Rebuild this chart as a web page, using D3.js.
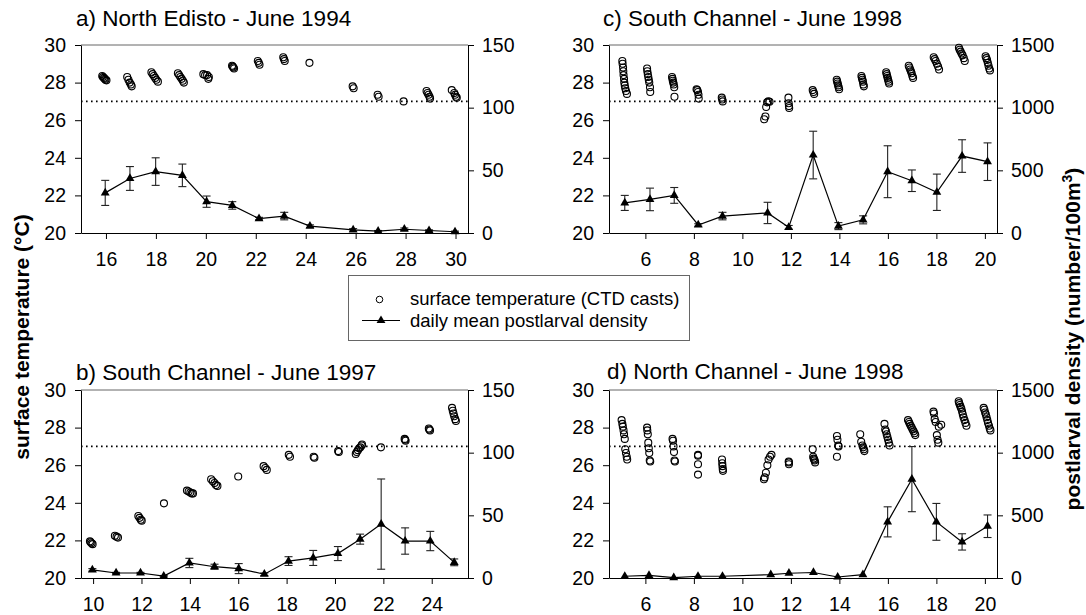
<!DOCTYPE html>
<html>
<head>
<meta charset="utf-8">
<script src="https://cdn.jsdelivr.net/npm/d3@7"></script>
<style>
  html, body { margin: 0; padding: 0; background: #fff; }
  svg { display: block; }
</style>
</head>
<body>
<svg id="chart" width="1086" height="615"></svg>
<script>
// ---- data -------------------------------------------------------------
const titles = [
  "a) North Edisto - June 1994",
  "b) South Channel - June 1997",
  "c) South Channel - June 1998",
  "d) North Channel - June 1998"
];
const tempThreshold = 27;
const tempTicks = [20, 22, 24, 26, 28, 30];
const dayTicksA = [16, 18, 20, 22, 24, 26, 28, 30];
const dayTicksB = [10, 12, 14, 16, 18, 20, 22, 24];
const dayTicksCD = [6, 8, 10, 12, 14, 16, 18, 20];
const densTicksSmall = [0, 50, 100, 150];
const densTicksLarge = [0, 500, 1000, 1500];

// a) North Edisto 1994 — daily mean postlarval density (± error)
const daysA = [15.97, 16.96, 17.99, 19.06, 20.03, 21.06, 22.13, 23.14, 24.17, 25.9, 26.9, 27.95, 28.94, 29.98];
const densA = [32, 43.5, 49, 46, 25, 22, 11.5, 13.5, 5.5, 2.5, 1.5, 3, 2, 1];
const errA  = [10, 9.5, 11, 9, 4.5, 3, 1, 3, 1, 1, 0.5, 1, 0.5, 0.5];
// surface temperature casts [day, °C]
const tempA = [
  [15.85,28.35],[15.88,28.3],[15.92,28.25],[15.95,28.2],[15.98,28.15],[16.02,28.12],
  [16.85,28.3],[16.9,28.15],[16.95,28.0],[17.0,27.9],[17.03,27.8],
  [17.82,28.55],[17.87,28.45],[17.92,28.35],[17.97,28.25],[18.02,28.15],[18.08,28.05],
  [18.88,28.5],[18.93,28.4],[18.98,28.3],[19.03,28.2],[19.08,28.1],[19.12,28.0],
  [19.9,28.45],[19.97,28.4],[20.05,28.4],[20.12,28.3],[20.1,28.2],
  [21.05,28.9],[21.08,28.85],[21.1,28.8],[21.13,28.75],
  [22.08,29.15],[22.12,29.05],[22.15,28.95],
  [23.1,29.35],[23.13,29.25],[23.16,29.15],
  [24.15,29.05],
  [25.88,27.8],[25.92,27.7],
  [26.88,27.35],[26.92,27.25],
  [27.92,27.0],
  [28.84,27.55],[28.88,27.45],[28.92,27.35],[28.96,27.25],[28.98,27.15],
  [29.85,27.6],[29.95,27.45],[29.98,27.35],[30.02,27.25],[30.05,27.2]
];

// b) South Channel 1997
const daysB = [9.97, 10.95, 11.96, 12.92, 13.98, 15.02, 16.02, 17.08, 18.08, 19.1, 20.12, 21.04, 21.91, 22.9, 23.94, 24.93];
const densB = [6.5, 4, 4, 1.5, 12, 9, 7.5, 3, 13.5, 16, 19.5, 31, 43, 29.5, 29.5, 12.5];
const errB  = [1, 0.5, 0.5, 0.5, 3.7, 2, 4, 1, 3.5, 6, 5.6, 4, 36, 10.5, 7.7, 2.7];
const tempB = [
  [9.87,21.95],[9.9,21.9],[9.94,21.85],[9.98,21.8],
  [10.9,22.25],[10.97,22.2],[11.03,22.15],
  [11.87,23.3],[11.92,23.2],[11.97,23.1],[12.01,23.05],
  [12.93,23.97],
  [13.88,24.65],[13.95,24.6],[14.02,24.55],[14.08,24.5],[14.13,24.5],
  [14.88,25.25],[14.95,25.15],[15.02,25.05],[15.08,24.95],[15.14,24.9],
  [16.0,25.4],
  [17.05,25.95],[17.12,25.85],[17.18,25.75],
  [18.09,26.55],[18.14,26.45],
  [19.12,26.45],[19.15,26.4],
  [20.13,26.75],[20.16,26.7],
  [20.86,26.6],[20.9,26.7],[20.95,26.8],[21.0,26.9],[21.05,26.95],[21.1,27.05],[21.12,27.1],
  [21.9,26.95],
  [22.88,27.4],[22.9,27.35],[22.92,27.3],
  [23.88,27.95],[23.9,27.9],[23.93,27.85],
  [24.84,29.05],[24.87,28.9],[24.9,28.75],[24.93,28.6],[24.97,28.45],[25.0,28.35]
];

// c) South Channel 1998
const daysC = [5.15, 6.19, 7.19, 8.18, 9.18, 11.04, 11.91, 12.92, 13.96, 14.98, 15.99, 16.99, 18.02, 19.06, 20.11];
const densC = [240, 268, 300, 64, 135, 160, 45, 622, 55, 105, 489, 417, 325, 614, 569];
const errC  = [60, 90, 63, 10, 30, 85, 15, 190, 28, 32, 207, 86, 145, 130, 150];
const tempC = [
  [5.05,29.15],[5.06,29.0],[5.08,28.8],[5.09,28.6],[5.1,28.4],[5.12,28.2],[5.13,28.0],[5.15,27.85],[5.17,27.7],[5.2,27.55],[5.24,27.4],
  [6.07,28.75],[6.08,28.6],[6.1,28.45],[6.12,28.3],[6.14,28.15],[6.16,28.0],[6.19,27.75],[6.2,27.5],
  [7.1,28.3],[7.12,28.2],[7.13,28.1],[7.15,28.0],[7.17,27.9],[7.19,27.75],[7.2,27.25],
  [8.11,27.65],[8.14,27.6],[8.17,27.5],[8.19,27.35],[8.2,27.15],
  [9.15,27.2],[9.17,27.1],[9.19,27.0],
  [10.9,26.05],[10.95,26.2],[10.98,26.7],[11.02,26.95],[11.07,27.0],[11.12,26.98],
  [11.9,27.2],[11.91,26.9],[11.92,26.75],[11.93,26.65],
  [12.9,27.6],[12.93,27.5],[12.96,27.4],
  [13.89,28.15],[13.91,28.05],[13.93,27.95],[13.95,27.85],[13.97,27.75],[13.99,27.65],
  [14.91,28.35],[14.93,28.25],[14.95,28.15],[14.97,28.05],[14.99,27.9],[15.01,27.8],
  [15.93,28.55],[15.95,28.45],[15.97,28.35],[15.99,28.25],[16.01,28.15],[16.03,28.05],[16.05,27.95],
  [16.86,28.9],[16.89,28.8],[16.92,28.7],[16.95,28.6],[16.98,28.5],[17.01,28.35],[17.04,28.25],
  [17.89,29.35],[17.93,29.25],[17.97,29.15],[18.02,29.0],[18.07,28.85],[18.11,28.7],
  [18.93,29.85],[18.96,29.75],[19.0,29.65],[19.04,29.55],[19.08,29.45],[19.13,29.3],[19.17,29.15],
  [20.03,29.4],[20.06,29.3],[20.09,29.2],[20.12,29.05],[20.15,28.9],[20.18,28.75],[20.21,28.65]
];

// d) North Channel 1998
const daysD = [5.15, 6.15, 7.17, 8.17, 9.18, 11.17, 11.92, 12.93, 13.93, 14.97, 15.99, 16.99, 18.0, 19.06, 20.11];
const densD = [14, 21, 3, 14, 14, 27, 38, 44, 8, 27, 448, 789, 448, 288, 413];
const errD  = [0, 0, 0, 0, 0, 0, 0, 0, 0, 0, 120, 260, 147, 65, 90];
const tempD = [
  [5.02,28.4],[5.05,28.2],[5.07,28.05],[5.1,27.85],[5.12,27.65],[5.15,27.4],[5.17,26.85],[5.2,26.65],[5.23,26.45],[5.25,26.3],
  [6.07,28.0],[6.08,27.85],[6.1,27.65],[6.12,27.2],[6.14,26.9],[6.16,26.65],[6.18,26.25],[6.2,26.2],
  [7.12,27.4],[7.14,27.3],[7.16,27.0],[7.18,26.7],[7.2,26.25],[7.22,26.2],
  [8.17,26.55],[8.17,26.5],[8.17,26.05],[8.17,25.5],
  [9.16,26.3],[9.17,26.1],[9.18,25.95],[9.19,25.8],[9.2,25.7],
  [10.89,25.25],[10.92,25.35],[10.97,25.6],[11.03,26.0],[11.08,26.3],[11.14,26.45],[11.2,26.55],
  [11.91,26.2],[11.92,26.15],[11.92,26.05],
  [12.9,26.85],[12.92,26.45],[12.94,26.35],[12.96,26.3],[12.98,26.25],[13.0,26.15],
  [13.9,27.55],[13.92,27.35],[13.95,27.05],[13.97,27.0],[13.9,26.45],
  [14.86,27.65],[14.9,27.25],[14.95,27.05],[14.98,26.95],[15.01,26.85],[15.03,26.75],
  [15.86,28.2],[15.89,27.9],[15.92,27.8],[15.95,27.65],[15.98,27.5],[16.01,27.35],[16.04,27.2],[16.07,27.05],
  [16.83,28.4],[16.87,28.3],[16.9,28.2],[16.94,28.1],[16.98,28.0],[17.02,27.9],[17.06,27.8],[17.1,27.7],[17.13,27.6],
  [17.88,28.85],[17.9,28.75],[17.93,28.45],[17.97,28.3],[18.1,28.05],[18.2,28.15],[18.02,27.6],[18.05,27.35],[18.08,27.2],
  [18.92,29.4],[18.94,29.3],[18.97,29.2],[19.0,29.1],[19.03,29.0],[19.06,28.85],[19.09,28.7],[19.12,28.55],[19.16,28.4],[19.2,28.25],[19.24,28.1],
  [19.95,29.05],[19.98,28.95],[20.01,28.8],[20.04,28.7],[20.07,28.55],[20.1,28.4],[20.13,28.25],[20.17,28.1],[20.2,27.95],[20.23,27.85]
];

// ---- drawing ----------------------------------------------------------
const FONT = "'Liberation Sans', Arial, Helvetica, sans-serif";
const svg = d3.select("#chart");
const plain = d3.format("d");

const panels = [
  { title: titles[0], box: [81, 468, 45, 233], xDom: [15, 30.5], xTicks: dayTicksA,
    dMax: 150, dTicks: densTicksSmall, days: daysA, dens: densA, err: errA, temps: tempA, tx: 76, ty: 26 },
  { title: titles[1], box: [81, 468, 390, 578], xDom: [9.5, 25.5], xTicks: dayTicksB,
    dMax: 150, dTicks: densTicksSmall, days: daysB, dens: densB, err: errB, temps: tempB, tx: 76, ty: 380 },
  { title: titles[2], box: [609, 997, 45, 233], xDom: [4.5, 20.5], xTicks: dayTicksCD,
    dMax: 1500, dTicks: densTicksLarge, days: daysC, dens: densC, err: errC, temps: tempC, tx: 603, ty: 26 },
  { title: titles[3], box: [609, 997, 390, 578], xDom: [4.5, 20.5], xTicks: dayTicksCD,
    dMax: 1500, dTicks: densTicksLarge, days: daysD, dens: densD, err: errD, temps: tempD, tx: 607, ty: 379 }
];

const tri = d3.symbol().type(d3.symbolTriangle).size(34);

function styleAxis(g) {
  g.selectAll("path.domain").attr("stroke", "#000").attr("stroke-width", 1);
  g.selectAll(".tick line").attr("stroke", "#000").attr("stroke-width", 1);
  g.selectAll(".tick text").attr("font-family", FONT).attr("font-size", "19.5px").attr("fill", "#000");
}

panels.forEach(p => {
  const [x0, x1, y0, y1] = p.box;
  const x = d3.scaleLinear().domain(p.xDom).range([x0, x1]);
  const yT = d3.scaleLinear().domain([20, 30]).range([y1, y0]);
  const yD = d3.scaleLinear().domain([0, p.dMax]).range([y1, y0]);
  const g = svg.append("g");

  // top frame line
  g.append("line").attr("x1", x0).attr("x2", x1).attr("y1", y0).attr("y2", y0)
    .attr("stroke", "#666").attr("stroke-width", 1);

  // 27 °C reference line
  g.append("line")
    .attr("x1", x0).attr("x2", x1)
    .attr("y1", yT(tempThreshold)).attr("y2", yT(tempThreshold))
    .attr("stroke", "#000").attr("stroke-width", 1.6)
    .attr("stroke-dasharray", "1.6,3.4");

  // axes
  g.append("g").attr("transform", `translate(0,${y1})`)
    .call(d3.axisBottom(x).tickValues(p.xTicks).tickFormat(plain).tickSize(6).tickSizeOuter(0).tickPadding(13))
    .call(styleAxis);
  g.append("g").attr("transform", `translate(${x0},0)`)
    .call(d3.axisLeft(yT).tickValues(tempTicks).tickFormat(plain).tickSize(6).tickSizeOuter(0).tickPadding(9))
    .call(styleAxis);
  g.append("g").attr("transform", `translate(${x1},0)`)
    .call(d3.axisRight(yD).tickValues(p.dTicks).tickFormat(plain).tickSize(6).tickSizeOuter(0).tickPadding(8))
    .call(styleAxis);

  // temperature casts
  g.append("g").selectAll("circle").data(p.temps).join("circle")
    .attr("cx", d => x(d[0])).attr("cy", d => yT(d[1])).attr("r", 3.5)
    .attr("fill", "none").attr("stroke", "#000").attr("stroke-width", 1.1);

  // density: error bars
  const pts = p.days.map((d, i) => ({ day: d, v: p.dens[i], e: p.err[i] }));
  const eb = g.append("g").attr("stroke", "#222").attr("stroke-width", 1.1);
  pts.filter(d => d.e > 0).forEach(d => {
    const cx = x(d.day), top = yD(d.v + d.e), bot = yD(Math.max(0, d.v - d.e));
    eb.append("line").attr("x1", cx).attr("x2", cx).attr("y1", top).attr("y2", bot);
    eb.append("line").attr("x1", cx - 4).attr("x2", cx + 4).attr("y1", top).attr("y2", top);
    eb.append("line").attr("x1", cx - 4).attr("x2", cx + 4).attr("y1", bot).attr("y2", bot);
  });

  // density: line + triangles
  g.append("path").datum(pts)
    .attr("d", d3.line().x(d => x(d.day)).y(d => yD(d.v)))
    .attr("fill", "none").attr("stroke", "#000").attr("stroke-width", 1.2);
  g.append("g").selectAll("path").data(pts).join("path")
    .attr("d", tri)
    .attr("transform", d => `translate(${x(d.day)},${yD(d.v)})`)
    .attr("fill", "#000");

  // panel title
  svg.append("text").attr("x", p.tx).attr("y", p.ty)
    .attr("font-family", FONT).attr("font-size", "22.5px").attr("fill", "#000")
    .text(p.title);
});

// legend
const lg = svg.append("g");
lg.append("rect").attr("x", 348.5).attr("y", 275.5).attr("width", 341).attr("height", 65)
  .attr("fill", "#fff").attr("stroke", "#666").attr("stroke-width", 1);
lg.append("circle").attr("cx", 379.5).attr("cy", 299.5).attr("r", 3.3)
  .attr("fill", "none").attr("stroke", "#000").attr("stroke-width", 1);
lg.append("line").attr("x1", 362).attr("x2", 400).attr("y1", 320.5).attr("y2", 320.5)
  .attr("stroke", "#000").attr("stroke-width", 1.2);
lg.append("path").attr("d", tri).attr("transform", "translate(381,320.5)").attr("fill", "#000");
lg.append("text").attr("x", 410).attr("y", 304.7)
  .attr("font-family", FONT).attr("font-size", "18.5px").text("surface temperature (CTD casts)");
lg.append("text").attr("x", 410).attr("y", 327.3)
  .attr("font-family", FONT).attr("font-size", "18.5px").text("daily mean postlarval density");

// axis titles
svg.append("text")
  .attr("transform", "translate(29,337) rotate(-90)")
  .attr("text-anchor", "middle")
  .attr("font-family", FONT).attr("font-size", "21px").attr("font-weight", "bold")
  .text("surface temperature (°C)");

const rl = svg.append("text")
  .attr("transform", "translate(1080,339) rotate(-90)")
  .attr("text-anchor", "middle")
  .attr("font-family", FONT).attr("font-size", "21px").attr("font-weight", "bold");
rl.append("tspan").text("postlarval density (number/100m");
rl.append("tspan").attr("font-size", "14px").attr("dy", "-8").text("3");
rl.append("tspan").attr("dy", "8").text(")");
</script>
</body>
</html>
